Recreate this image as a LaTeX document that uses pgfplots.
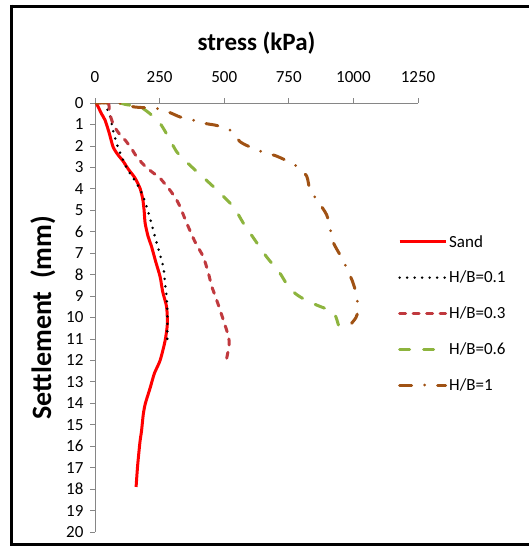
\documentclass[border=0pt]{standalone}
\usepackage{pgfplots}
\pgfplotsset{compat=1.18}
\usepackage{fontspec}
\setmainfont{Carlito}
\definecolor{axisgray}{RGB}{134,134,134}
\definecolor{sandred}{RGB}{255,0,0}
\definecolor{hbthree}{RGB}{192,57,62}
\definecolor{hbsix}{RGB}{141,180,62}
\definecolor{hbone}{RGB}{160,82,20}
\begin{document}
\begin{tikzpicture}
\useasboundingbox (0pt,0pt) rectangle (529pt,-547pt);
\draw[line width=3pt] (11.5pt,-6pt) -- (530pt,-6pt);
\draw[line width=3pt] (11.5pt,-544pt) -- (530pt,-544pt);
\draw[line width=3pt] (11.5pt,-4.5pt) -- (11.5pt,-545.5pt);
\begin{axis}[
  at={(95pt,-103pt)}, anchor=north west,
  scale only axis, width=323pt, height=429pt,
  xmin=0, xmax=1250, ymin=0, ymax=20,
  y dir=reverse,
  axis x line*=top, axis y line*=left,
  axis line style={axisgray, line width=0.8pt},
  tick style={axisgray, line width=0.8pt},
  tick align=outside, major tick length=5pt,
  xtick={0,250,500,750,1000,1250},
  ytick={0,1,...,20},
  /pgf/number format/assume math mode=true,
  /pgf/number format/set thousands separator={},
  ticklabel style={font=\fontsize{17}{18}\selectfont, text=black},
  xticklabel shift=12pt,
  yticklabel shift=3pt,
  xlabel={\textbf{stress (kPa)}},
  ylabel={\textbf{Settlement~~(mm)}},
  xlabel style={font=\fontsize{25}{28}\selectfont},
  ylabel style={font=\fontsize{28}{30}\selectfont},
  xlabel shift=10pt,
  ylabel shift=4pt,
  legend style={draw=none, fill=none, at={(axis description cs:0.938,0.697)}, anchor=north west,
    font=\fontsize{17}{20}\selectfont, row sep=18.5pt, inner sep=0pt},
  legend cell align=left,
  legend image code/.code={\draw[#1] (0pt,0pt) -- (46pt,0pt);},
]
\addplot[sandred, line width=3pt, smooth, tension=0.4] coordinates {
(0,0) (7,0.05) (25,0.5) (39,0.8) (55,1.4) (70,2.05) (88,2.4) (108,2.7) (130,3.1) (155,3.5)
(175,4.0) (185,4.5) (190,5.0) (194,5.6) (205,6.2) (219,6.7) (235,7.4) (252,8.1) (262,8.8)
(277,9.5) (280,10.3) (271,11.1) (252,12.0) (230,12.6) (213,13.3) (195,14.0) (187,14.5)
(180,15.3) (174,15.8) (165,16.9) (159,17.9)};
\addlegendentry{Sand}
\addplot[black, line width=2.8pt, line cap=round, dash pattern=on 0pt off 7.5pt, smooth, tension=0.4] coordinates {
(35,0) (50,0.35) (58,0.56) (71,1.34) (90,2.1) (123,3.04) (161,3.74) (181,4.2) (194,4.6)
(213,5.38) (239,6.54) (264,7.63) (270,8.3) (277,9.0) (280,9.8) (280,10.58) (280,11.33)};
\addlegendentry{H/B=0.1}
\addplot[hbthree, line width=3pt, line cap=round, dash pattern=on 6pt off 7.5pt, smooth, tension=0.4] coordinates {
(0,0) (50,0) (55,0.3) (62,0.7) (75,1.1) (95,1.45) (116,1.72) (140,2.1) (161,2.5) (190,2.9)
(219,3.2) (252,3.51) (290,4.06) (315,4.5) (329,4.83) (355,5.6) (387,6.47) (419,7.17)
(439,7.94) (452,8.56) (464,8.95) (484,9.65) (503,10.35) (517,10.9) (519,11.3) (507,12.06)};
\addlegendentry{H/B=0.3}
\addplot[hbsix, line width=3pt, line cap=round, dash pattern=on 10pt off 14pt, smooth, tension=0.4] coordinates {
(97,0) (123,0.08) (174,0.17) (219,0.56) (252,0.95) (280,1.5) (316,2.27) (350,2.7) (387,3.12)
(458,3.9) (535,4.83) (574,5.6) (619,6.39) (664,7.17) (716,7.94) (740,8.4) (774,8.87)
(810,9.15) (858,9.42) (905,9.65) (929,9.88) (942,10.35)};
\addlegendentry{H/B=0.6}
\addplot[hbone, line width=3pt, line cap=round, dash pattern=on 12pt off 13pt on 0pt off 13pt, smooth, tension=0.4] coordinates {
(0,0) (50,0) (100,0.02) (150,0.18) (195,0.22) (239,0.25) (290,0.45) (329,0.65) (380,0.8)
(425,0.95) (472,1.05) (522,1.26) (561,1.8) (600,2.05) (645,2.27) (697,2.45) (735,2.65)
(780,2.94) (819,3.4) (832,4.06) (864,4.6) (896,5.2) (909,5.77) (922,6.5) (954,7.2)
(974,7.7) (997,8.33) (1012,8.95) (1018,9.65) (1010,10.0) (993,10.27)};
\addlegendentry{H/B=1}
\end{axis}
\end{tikzpicture}
\end{document}
